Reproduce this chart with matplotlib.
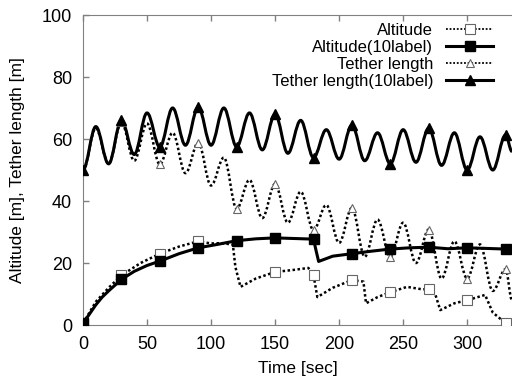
import numpy as np
import matplotlib
matplotlib.use("Agg")
from matplotlib import pyplot as plt
from matplotlib.path import Path
from matplotlib.patches import PathPatch
from matplotlib.lines import Line2D

plt.rcParams["font.family"] = ["Liberation Sans", "DejaVu Sans"]

# altitude (raw)
alt_t = [0, 5, 10, 20, 30, 45, 60, 75, 90, 100, 107, 117, 119, 123, 135, 150, 165, 176, 180,
         183, 195, 210, 219, 221, 230, 240, 253, 265, 270, 275, 279, 290, 300, 314, 320, 323, 330, 335]
alt_v = [0.5, 4, 7.5, 12, 16, 20, 23, 25.3, 27, 26.3, 26.4, 26, 18.7, 12.3, 15, 17.1, 17.8, 18.4, 16.1,
         9, 12, 14.5, 14, 7, 9, 10.6, 12.3, 11.5, 11.6, 10, 4.8, 7, 8, 9.7, 4, 3, 0.6, 0.5]

# altitude (10label)
alt10_t = [0, 5, 10, 15, 20, 30, 40, 50, 60, 75, 90, 105, 120, 135, 150, 165, 180, 182, 184,
           195, 210, 225, 240, 255, 270, 285, 300, 315, 330, 335]
alt10_v = [0.5, 3.5, 6.5, 9, 11, 14.7, 17.3, 19.2, 20.6, 23, 24.9, 26, 27.2, 27.8, 28.1, 27.9, 27.7, 24, 20.5,
           22.2, 23, 23.8, 24.5, 24.9, 25.1, 24.6, 24.9, 24.7, 24.5, 24.4]

# tether length, read at the turning points (every 10 s)
teth_t = [0, 10, 20, 30, 40, 50, 60, 70, 80, 90, 100, 110, 120, 130, 140, 150, 160, 170, 180,
          190, 200, 210, 220, 230, 240, 250, 260, 270, 280, 290, 300, 310, 320, 330, 335]
teth_v = [50, 63.5, 52, 65.5, 53, 65, 51.8, 62, 49, 58.8, 45, 54, 37.5, 46.8, 34.5, 45.5, 33, 43, 30.6,
          38.7, 26.5, 37.8, 22, 34, 22, 33, 20, 30.8, 15, 27, 15, 26, 11, 18, 8]
teth10_v = [50, 64, 52, 66, 55, 68.4, 57.4, 70, 58, 70.3, 58, 70, 57.5, 68.4, 56.5, 68, 55.4, 66, 54,
            63, 53.5, 64.5, 53, 62, 52, 63, 52.5, 63.5, 51.5, 62, 50, 60.7, 50, 61.3, 56]


def wave_path(t, v):
    # smooth curve through the turning points
    verts = [(t[0], v[0])]
    codes = [Path.MOVETO]
    for i in range(len(t) - 1):
        d = t[i + 1] - t[i]
        verts += [(t[i] + 0.364 * d, v[i]), (t[i + 1] - 0.364 * d, v[i + 1]), (t[i + 1], v[i + 1])]
        codes += [Path.CURVE4] * 3
    return Path(verts, codes)


def every30(t):
    return [i for i, x in enumerate(t) if x % 30 == 0]


dotted = (0, (1, 1))
grey = "#808080"

fig = plt.figure(figsize=(5.12, 3.77), dpi=100)
ax = fig.add_axes([83 / 512, 52 / 377, 429 / 512, 310 / 377])

# dotted (raw) series
ax.plot(alt_t, alt_v, color="black", lw=1.8, linestyle=dotted, zorder=2)
ax.add_patch(PathPatch(wave_path(teth_t, teth_v), fill=False, edgecolor="black", lw=1.8,
                       linestyle=dotted, zorder=2))

# solid (10label) series
ax.plot(alt10_t, alt10_v, color="black", lw=2.2, zorder=3)
ax.add_patch(PathPatch(wave_path(teth_t, teth10_v), fill=False, edgecolor="black", lw=2.2,
                       zorder=3))

i_alt = every30(alt_t)
i_alt10 = every30(alt10_t)
i_teth = every30(teth_t)
ax.plot(np.array(alt_t)[i_alt], np.array(alt_v)[i_alt], linestyle="None", marker="s", ms=6.5,
        mfc="white", mec="#666666", mew=0.8, zorder=4)
ax.plot(np.array(teth_t)[i_teth], np.array(teth_v)[i_teth], linestyle="None", marker="^", ms=6,
        mfc="white", mec="#666666", mew=0.8, zorder=4)
ax.plot(np.array(alt10_t)[i_alt10], np.array(alt10_v)[i_alt10], linestyle="None", marker="s", ms=7,
        color="black", zorder=5)
ax.plot(np.array(teth_t)[i_teth], np.array(teth10_v)[i_teth], linestyle="None", marker="^", ms=6.5,
        color="black", zorder=5)

handles = [
    Line2D([], [], color="black", lw=1.3, linestyle=dotted, marker="s", ms=6.5, mfc="white", mec="#666666", mew=0.8),
    Line2D([], [], color="black", lw=2.2, marker="s", ms=7),
    Line2D([], [], color="black", lw=1.3, linestyle=dotted, marker="^", ms=6, mfc="white", mec="#666666", mew=0.8),
    Line2D([], [], color="black", lw=2.2, marker="^", ms=6.5),
]
labels = ["Altitude", "Altitude(10label)", "Tether length", "Tether length(10label)"]
ax.legend(handles, labels, loc="upper right", bbox_to_anchor=(0.956, 0.975), frameon=False,
          markerfirst=False, fontsize=12, handlelength=2.8, handletextpad=0.8,
          labelspacing=0.12, borderpad=0, borderaxespad=0, numpoints=1)

ax.set_xlim(0, 335)
ax.set_ylim(0, 100)
ax.set_xticks([0, 50, 100, 150, 200, 250, 300])
ax.set_yticks([0, 20, 40, 60, 80, 100])
ax.tick_params(direction="in", top=True, right=False, length=4, width=1, color=grey,
               pad=8, labelsize=13)
for s in ["left", "bottom", "top"]:
    ax.spines[s].set_color(grey)
ax.spines["right"].set_visible(False)

ax.set_xlabel("Time [sec]", fontsize=12.5, labelpad=6)
ax.set_ylabel("Altitude [m], Tether length [m]", fontsize=12.5, labelpad=12)

fig.savefig("out.png", dpi=100)
